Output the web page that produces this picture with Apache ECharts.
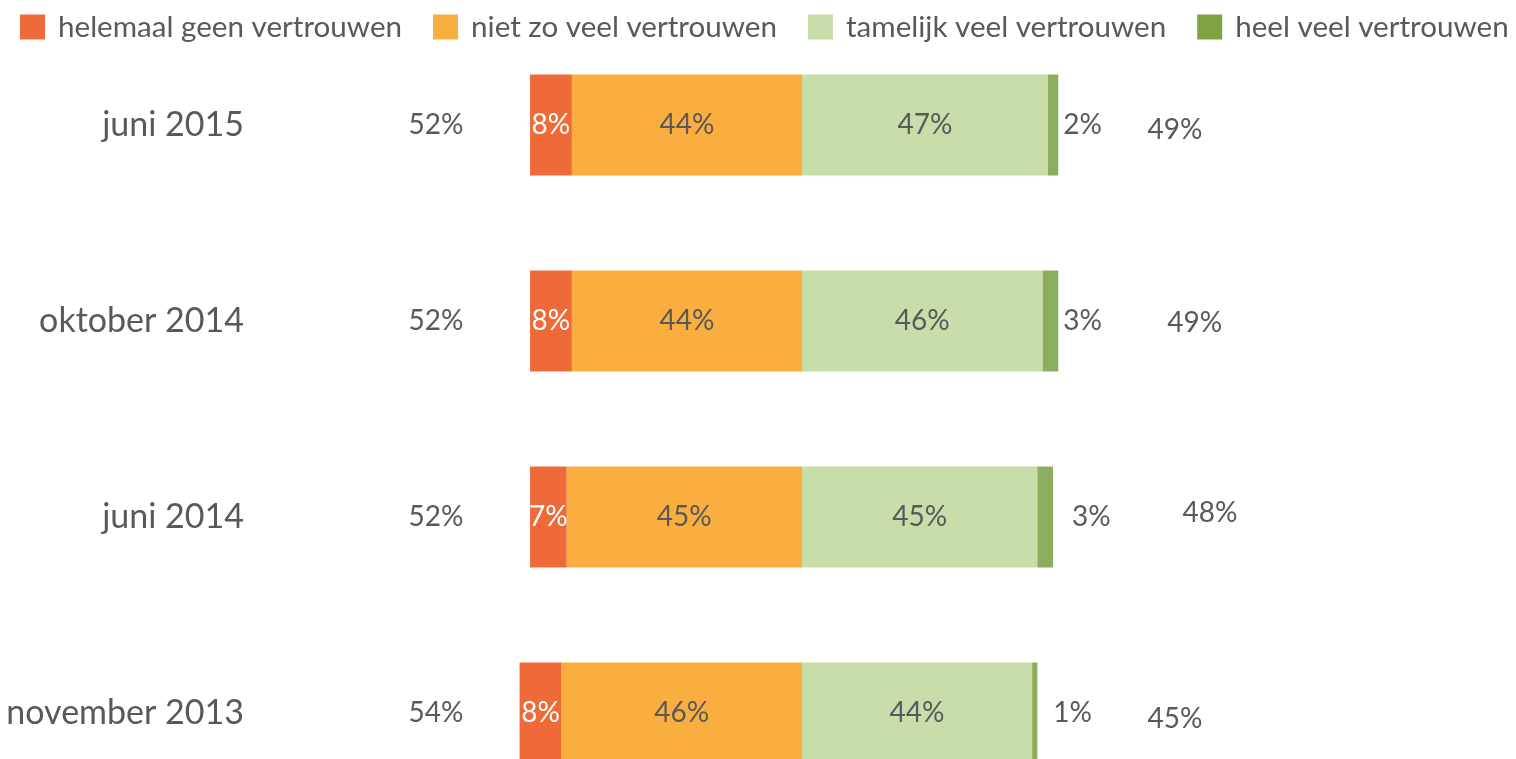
<!DOCTYPE html>
<html>
<head>
<meta charset="utf-8">
<script src="https://cdn.jsdelivr.net/npm/echarts@6/dist/echarts.min.js"></script>
<style>
  html, body { margin: 0; padding: 0; background: #fff; overflow: hidden; }
  /* taller than the window: the last row is cut off at the bottom, as in the original */
  #chart { width: 1516px; height: 811px; }
</style>
</head>
<body>
<div id="chart"></div>
<script>
// data
var categories = ['juni 2015', 'oktober 2014', 'juni 2014', 'november 2013'];
var helemaalGeen = [8, 8, 7, 8];
var nietZoVeel = [44, 44, 45, 46];
var tamelijkVeel = [47, 46, 45, 44];
var heelVeel = [2, 3, 3, 1];
var totaalNegatief = [52, 52, 52, 54];
var totaalPositief = [49, 49, 48, 45];

// layout only (label placement, in axis units / px)
var leftTotalX = -70;
var rightTotalX = [71.3, 75.1, 78, 71.3];
var rightTotalDy = [5, 2, -4, 6];
var smallLabelGap = [5, 5, 19, 16];

var textColor = '#595959';
var font = 'Lato';
var labelSize = 28;

function pct(p) { return Math.abs(p.value) + '%'; }

function createChart(id)
{
	var option = {
		animation: false,
		textStyle: { fontFamily: font },
		legend: {
			left: 20,
			top: 12,
			padding: 0,
			itemWidth: 25,
			itemHeight: 25,
			itemGap: 31,
			icon: 'rect',
			textStyle: { fontSize: 29.6, color: textColor, fontFamily: font, padding: [0, 0, 0, 8] },
			data: [
				'helemaal geen vertrouwen',
				'niet zo veel vertrouwen',
				'tamelijk veel vertrouwen',
				{ name: 'heel veel vertrouwen', itemStyle: { color: '#7FA342' } }
			]
		},
		grid: { left: 279, width: 1046, top: 27, bottom: 0, containLabel: false },
		xAxis: {
			type: 'value', min: -100, max: 100, show: false
		},
		yAxis: {
			type: 'category',
			inverse: true,
			data: categories,
			axisLine: { show: false },
			axisTick: { show: false },
			splitLine: { show: false },
			axisLabel: { fontSize: 34, color: textColor, margin: 35, fontFamily: font }
		},
		series: [
			{
				name: 'niet zo veel vertrouwen', type: 'bar', stack: 'neg', barWidth: 101, barGap: '-100%',
				itemStyle: { color: '#FBAE40' },
				label: { show: true, position: 'inside', fontSize: labelSize, color: textColor, formatter: pct },
				data: nietZoVeel.map(function (v) { return -v; })
			},
			{
				name: 'helemaal geen vertrouwen', type: 'bar', stack: 'neg', barWidth: 101, barGap: '-100%',
				itemStyle: { color: '#EE6A38' },
				label: { show: true, position: 'inside', fontSize: labelSize, color: '#fff', formatter: pct },
				data: helemaalGeen.map(function (v) { return -v; })
			},
			{
				name: 'tamelijk veel vertrouwen', type: 'bar', stack: 'pos', barWidth: 101, barGap: '-100%',
				itemStyle: { color: '#C8DDAA' },
				label: { show: true, position: 'inside', fontSize: labelSize, color: textColor, formatter: pct },
				data: tamelijkVeel
			},
			{
				name: 'heel veel vertrouwen', type: 'bar', stack: 'pos', barWidth: 101, barGap: '-100%',
				itemStyle: { color: '#8CAD5E' },
				label: { show: true, position: 'right', fontSize: labelSize, color: textColor, formatter: pct },
				data: heelVeel.map(function (v, i) {
					return { value: v, label: { distance: smallLabelGap[i] } };
				})
			},
			{
				name: 'totaal negatief', type: 'scatter', symbolSize: 1,
				itemStyle: { color: 'rgba(0,0,0,0)', opacity: 1 },
				label: {
					show: true, position: 'inside', fontSize: labelSize, color: textColor,
					formatter: function (p) { return totaalNegatief[p.dataIndex] + '%'; }
				},
				data: categories.map(function (c) { return [leftTotalX, c]; })
			},
			{
				name: 'totaal positief', type: 'scatter', symbolSize: 1,
				itemStyle: { color: 'rgba(0,0,0,0)', opacity: 1 },
				label: {
					show: true, position: 'inside', fontSize: labelSize, color: textColor,
					formatter: function (p) { return totaalPositief[p.dataIndex] + '%'; }
				},
				data: categories.map(function (c, i) {
					return { value: [rightTotalX[i], c], label: { offset: [0, rightTotalDy[i]] } };
				})
			}
		]
	};
	var chart = echarts.init(document.getElementById(id));
	chart.setOption(option);
}

createChart('chart');
</script>
</body>
</html>
